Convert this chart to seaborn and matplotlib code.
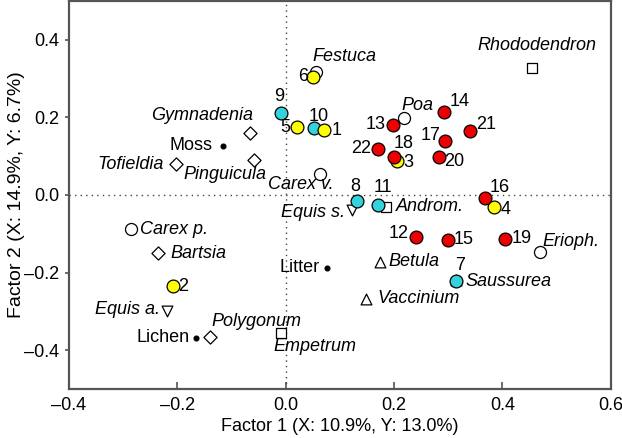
import matplotlib
matplotlib.use("Agg")
import matplotlib.pyplot as plt
import seaborn as sns
import pandas as pd

# ---- data: sites (numbered circles) ----
site_ids = ["1", "2", "3", "4", "5", "6", "7", "8", "9", "10", "11",
            "12", "13", "14", "15", "16", "17", "18", "19", "20", "21", "22"]
site_x = [0.071, -0.209, 0.206, 0.384, 0.020, 0.050, 0.314, 0.131, -0.008, 0.053, 0.170,
          0.240, 0.198, 0.293, 0.299, 0.368, 0.294, 0.200, 0.404, 0.283, 0.340, 0.171]
site_y = [0.167, -0.235, 0.087, -0.031, 0.174, 0.304, -0.223, -0.015, 0.210, 0.172, -0.026,
          -0.108, 0.181, 0.214, -0.116, -0.007, 0.138, 0.097, -0.114, 0.097, 0.164, 0.119]
site_group = ["yellow", "yellow", "yellow", "yellow", "yellow", "yellow", "cyan", "cyan", "cyan", "cyan", "cyan",
              "red", "red", "red", "red", "red", "red", "red", "red", "red", "red", "red"]

# ---- data: species / covariates ----
sp_names = ["Festuca", "Gymnadenia", "Moss", "Tofieldia", "Pinguicula", "Carex v.",
            "Rhododendron", "Poa", "Equis s.", "Androm.", "Erioph.", "Betula",
            "Saussurea", "Vaccinium", "Empetrum", "Carex p.", "Bartsia", "Litter",
            "Equis a.", "Lichen", "Polygonum"]
sp_x = [0.056, -0.066, -0.116, -0.203, -0.058, 0.064,
        0.455, 0.219, 0.123, 0.185, 0.470, 0.174,
        0.314, 0.148, -0.008, -0.286, -0.235, 0.076,
        -0.220, -0.165, -0.140]
sp_y = [0.316, 0.159, 0.127, 0.079, 0.090, 0.054,
        0.328, 0.198, -0.039, -0.031, -0.148, -0.172,
        -0.218, -0.267, -0.357, -0.088, -0.150, -0.188,
        -0.300, -0.368, -0.366]
sp_kind = ["graminoid", "forb", "ground", "forb", "forb", "graminoid",
           "shrub", "graminoid", "fern", "shrub", "graminoid", "decid",
           "decid", "decid", "shrub", "graminoid", "forb", "ground",
           "fern", "ground", "forb"]

# tick labels
x_ticks = [-0.4, -0.2, 0.0, 0.2, 0.4, 0.6]
x_ticklabels = ["\u20130.4", "\u20130.2", "0.0", "0.2", "0.4", "0.6"]
y_ticks = [-0.4, -0.2, 0.0, 0.2, 0.4]
y_ticklabels = ["\u20130.4", "\u20130.2", "0.0", "0.2", "0.4"]

# ---- styling (kept separate from data) ----
site_colors = {"yellow": "#ffff00", "cyan": "#33d3dd", "red": "#ee0000"}
kind_markers = {"graminoid": "o", "forb": "D", "shrub": "s", "fern": "v", "decid": "^", "ground": "o"}
kind_sizes = {"graminoid": 75, "forb": 45, "shrub": 60, "fern": 60, "decid": 60, "ground": 12}

# label offsets in pixels (dx, dy with dy positive = down), ha
site_lab = {
    "1": (7, 0, "left"), "2": (6, 0, "left"), "3": (6, 1, "left"), "4": (7, 3, "left"),
    "5": (-6, 0, "right"), "6": (-5, 0, "right"), "7": (4, -16, "center"), "8": (-1, -14, "center"),
    "9": (-2, -17, "center"), "10": (4, -12, "center"), "11": (5, -17, "center"),
    "12": (-7, -3, "right"), "13": (-7, 0, "right"), "14": (5, -10, "left"), "15": (6, 0, "left"),
    "16": (5, -10, "left"), "17": (-5, -6, "right"), "18": (10, -14, "center"), "19": (7, -1, "left"),
    "20": (5, 4, "left"), "21": (6, -7, "left"), "22": (-7, 0, "right"),
}
sp_lab = {
    "Festuca": (28, -16, "center"), "Gymnadenia": (-48, -18, "center"), "Moss": (-10, 0, "right"),
    "Tofieldia": (-12, 0, "right"), "Pinguicula": (-29, 15, "center"), "Carex v.": (-20, 11, "center"),
    "Rhododendron": (5, -22, "center"), "Poa": (13, -13, "center"), "Equis s.": (-7, 2, "right"),
    "Androm.": (10, 0, "left"), "Erioph.": (2, -11, "left"), "Betula": (8, 0, "left"),
    "Saussurea": (10, 2, "left"), "Vaccinium": (12, 0, "left"), "Empetrum": (-8, 13, "left"),
    "Carex p.": (9, 0, "left"), "Bartsia": (12, 0, "left"), "Litter": (-7, 0, "right"),
    "Equis a.": (-7, -2, "right"), "Lichen": (-7, 0, "right"), "Polygonum": (2, -15, "left"),
}
regular_names = {"Moss", "Litter", "Lichen"}

FS = 13

sns.set_theme(style="white")
plt.rcParams["font.family"] = ["Liberation Sans", "DejaVu Sans"]

fig = plt.figure(figsize=(6.22, 4.38), dpi=100)
ax = fig.add_axes([0.111, 0.112, 0.871, 0.886])

ax.axhline(0, color="#444444", linestyle=(0, (1, 3)), linewidth=1.0, zorder=1)
ax.axvline(0, color="#444444", linestyle=(0, (1, 3)), linewidth=1.0, zorder=1)

sp_df = pd.DataFrame({"x": sp_x, "y": sp_y, "name": sp_names, "kind": sp_kind})
for kind, sub in sp_df.groupby("kind", sort=False):
    face = "black" if kind == "ground" else "white"
    sns.scatterplot(data=sub, x="x", y="y", ax=ax, marker=kind_markers[kind],
                    s=kind_sizes[kind], color=face, edgecolor="black", linewidth=0.9,
                    zorder=3, legend=False)

site_df = pd.DataFrame({"x": site_x, "y": site_y, "id": site_ids, "group": site_group})
zo = {"cyan": 4, "yellow": 5, "red": 6}
for grp in ["cyan", "yellow", "red"]:
    sub = site_df[site_df["group"] == grp]
    sns.scatterplot(data=sub, x="x", y="y", ax=ax, marker="o", s=85,
                    color=site_colors[grp], edgecolor="black", linewidth=0.9,
                    zorder=zo[grp], legend=False)

px2pt = 72.0 / 100.0
for _, r in site_df.iterrows():
    dx, dy, ha = site_lab[r["id"]]
    ax.annotate(r["id"], (r["x"], r["y"]), xytext=(dx * px2pt, -dy * px2pt),
                textcoords="offset points", ha=ha, va="center", fontsize=FS,
                color="black", zorder=8)
for _, r in sp_df.iterrows():
    dx, dy, ha = sp_lab[r["name"]]
    style = "normal" if r["name"] in regular_names else "italic"
    ax.annotate(r["name"], (r["x"], r["y"]), xytext=(dx * px2pt, -dy * px2pt),
                textcoords="offset points", ha=ha, va="center", fontsize=FS,
                fontstyle=style, color="black", zorder=8)

ax.set_xlim(-0.4, 0.6)
ax.set_ylim(-0.5, 0.5)
ax.set_xticks(x_ticks)
ax.set_yticks(y_ticks)
ax.set_xticklabels(x_ticklabels)
ax.set_yticklabels(y_ticklabels)
ax.tick_params(axis="x", direction="in", length=5, width=1.2, color="#555555",
               labelsize=FS, labelcolor="black", pad=6, bottom=True)
ax.tick_params(axis="y", direction="out", length=3, width=1.2, color="#555555",
               labelsize=FS, labelcolor="black", pad=4, left=True)
ax.set_xlabel("Factor 1 (X: 10.9%, Y: 13.0%)", fontsize=FS, color="black", labelpad=3)
ax.set_ylabel("Factor 2 (X: 14.9%, Y: 6.7%)", fontsize=14, color="black")
ax.yaxis.set_label_coords(-0.082, 0.5)
for sp in ax.spines.values():
    sp.set_visible(True)
    sp.set_color("#555555")
    sp.set_linewidth(1.6)
ax.grid(False)

fig.savefig("out.png", dpi=100)
